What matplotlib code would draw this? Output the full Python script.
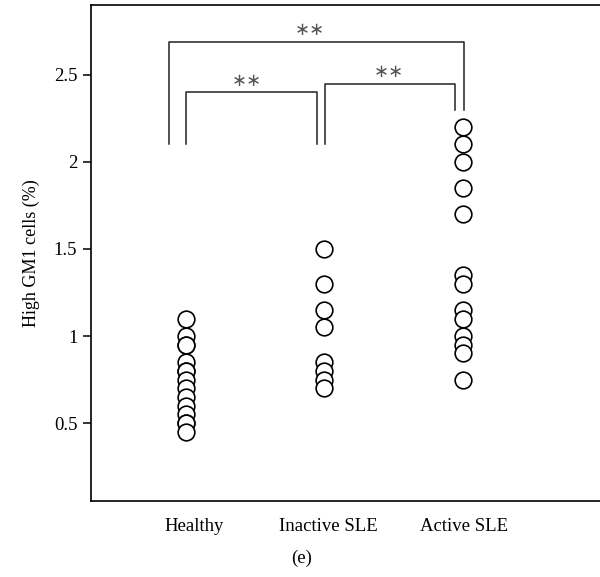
import matplotlib
matplotlib.use("Agg")
import matplotlib.pyplot as plt

plt.rcParams['font.family'] = ['Liberation Serif', 'DejaVu Serif']

# dados
categories = ['Healthy', 'Inactive SLE', 'Active SLE']
healthy = [1.1, 1.0, 0.95, 0.95, 0.85, 0.8, 0.8, 0.75, 0.7, 0.65, 0.6, 0.55, 0.5, 0.5, 0.45]
inactive = [1.5, 1.3, 1.15, 1.05, 0.85, 0.8, 0.75, 0.7]
active = [2.2, 2.1, 2.0, 1.85, 1.7, 1.35, 1.3, 1.15, 1.1, 1.0, 0.95, 0.9, 0.75]
groups = [healthy, inactive, active]

# posições (fração do eixo x)
point_x = [0.187, 0.458, 0.731]
label_x = [0.202, 0.466, 0.733]

fig = plt.figure(figsize=(6.0, 5.77), dpi=100)
ax = fig.add_axes([0.152, 0.131, 0.848, 0.860])

for x, vals in zip(point_x, groups):
    ax.plot([x] * len(vals), vals, 'o', ms=12, mfc='white', mec='black',
            mew=1.2, linestyle='none', clip_on=False)

# barras de significância
def bracket(x1, x2, y, y1, y2, xt):
    ax.plot([x1, x1, x2, x2], [y1, y, y, y2], color='#222222', lw=1.1)
    ax.text(xt, y + 0.015, '∗∗', ha='center', va='bottom', fontsize=13,
            color='#555555', family='DejaVu Sans')

bracket(0.153, 0.733, 2.69, 2.1, 2.3, 0.43)
bracket(0.187, 0.444, 2.40, 2.1, 2.1, 0.305)
bracket(0.460, 0.715, 2.45, 2.1, 2.3, 0.586)

ax.set_xlim(0, 1)
ax.set_ylim(0.05, 2.9)
ax.set_yticks([0.5, 1, 1.5, 2, 2.5])
ax.set_yticklabels(['0.5', '1', '1.5', '2', '2.5'])
ax.set_xticks(label_x)
ax.set_xticklabels(categories)
ax.tick_params(axis='x', length=0, pad=12, labelsize=13.5)
ax.tick_params(axis='y', length=6, width=1.1, labelsize=13.5, pad=4)
ax.set_ylabel('High GM1 cells (%)', fontsize=13, labelpad=10)

for side in ['left', 'bottom', 'top']:
    ax.spines[side].set_linewidth(1.2)
ax.spines['right'].set_visible(False)

fig.text(0.503, 0.033, '(e)', ha='center', va='center', fontsize=13.5)

fig.savefig('out.png', dpi=100)
